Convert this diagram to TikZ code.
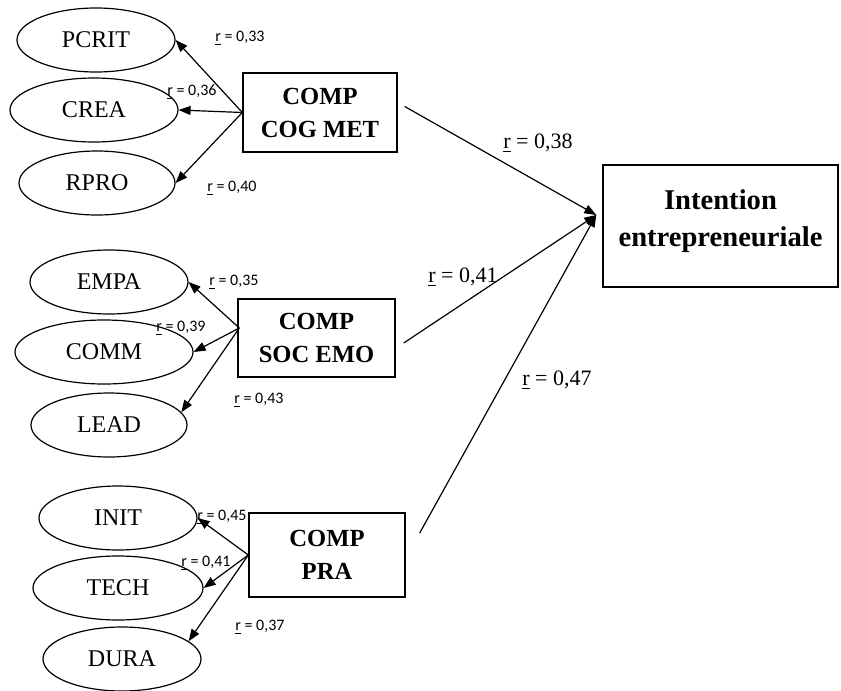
\documentclass[tikz,border=0pt]{standalone}
\usepackage{fontspec}
\setmainfont{Liberation Serif}
\newfontfamily\calib{Carlito}
\usetikzlibrary{calc,positioning,shapes.geometric,arrows.meta}

\begin{document}
\begin{tikzpicture}[x=0.5pt, y=-0.5pt,
        latent/.style={draw, ellipse, line width=0.6pt, inner sep=0pt, minimum width=80pt, minimum height=32pt, font=\fontsize{12}{14}\selectfont},
        comp/.style={draw, rectangle, line width=0.7pt, align=center, font=\fontsize{12.3}{16.5}\selectfont\bfseries},
        rsmall/.style={font=\calib\fontsize{8}{9}\selectfont, inner sep=0pt},
        rbig/.style={font=\fontsize{11}{13}\selectfont, inner sep=0pt},
        lien/.style={line width=0.6pt, -{Triangle[length=6pt, width=4.5pt]}}]

        \useasboundingbox (0,0) rectangle (841,691);

        \foreach \n/\t/\x/\y/\w in {pcrit/PCRIT/96/40/79, crea/CREA/94/110/84, rpro/RPRO/97/183/78,
                empa/EMPA/109/282/79, comm/COMM/104/352/89, lead/LEAD/109/425/78,
                init/INIT/118/518/79, tech/TECH/118/588/85, dura/DURA/122/659/79}
            \node[latent, minimum width=\w pt] (\n) at (\x,\y) {\t};

        \node[comp, minimum width=77pt, minimum height=39.5pt] (cog) at (320,112.5) {COMP\\COG MET};
        \node[comp, minimum width=78.5pt, minimum height=39pt] (soc) at (316.5,338) {COMP\\SOC EMO};
        \node[comp, minimum width=78pt, minimum height=42pt] (pra) at (327,555) {COMP\\PRA};
        \node[comp, minimum width=117.5pt, minimum height=61pt, font=\fontsize{14.3}{18.5}\selectfont\bfseries] (int) at (720.5,226) {Intention\\entrepreneuriale\rule[-8pt]{0pt}{0pt}};

        \draw[lien] (cog.west) -- (pcrit.east);
        \draw[lien] (cog.west) -- (crea.east);
        \draw[lien] (cog.west) -- (rpro.east);

        \draw[lien] ($(soc.west)+(2,-10)$) -- (empa.east);
        \draw[lien] ($(soc.west)+(2,-10)$) -- (comm.east);
        \draw[lien] ($(soc.west)+(2,-10)$) -- (lead.10);

        \draw[lien] (pra.west) -- (init.east);
        \draw[lien] (pra.west) -- (tech.east);
        \draw[lien] (pra.west) -- (dura.15);

        \coordinate (meet) at ($(int.west)+(-6,-11)$);
        \draw[lien] ($(cog.east)+(7,-6)$) -- (meet);
        \draw[lien] ($(soc.east)+(8,5)$) -- (meet);
        \draw[lien] ($(pra.east)+(14,-22)$) -- (meet);

        \node[rsmall] (r33) at (240,38) {\underline{r} = 0,33};
        \node[rsmall] (r36) at (192,92) {\underline{r} = 0,36};
        \node[rsmall] (r40) at (232,188) {\underline{r} = 0,40};
        \node[rsmall] (r35) at (234,282) {\underline{r} = 0,35};
        \node[rsmall] (r39) at (181,328) {\underline{r} = 0,39};
        \node[rsmall] (r43) at (259,400) {\underline{r} = 0,43};
        \node[rsmall] (r45) at (222,517) {\underline{r} = 0,45};
        \node[rsmall] (r41p) at (206,563) {\underline{r} = 0,41};
        \node[rsmall] (r37) at (260,627) {\underline{r} = 0,37};

        \node[rbig] (r38) at (538,143) {\underline{r} = 0,38};
        \node[rbig] (r41) at (463,277) {\underline{r} = 0,41};
        \node[rbig] (r47) at (557,380) {\underline{r} = 0,47};
\end{tikzpicture}
\end{document}
